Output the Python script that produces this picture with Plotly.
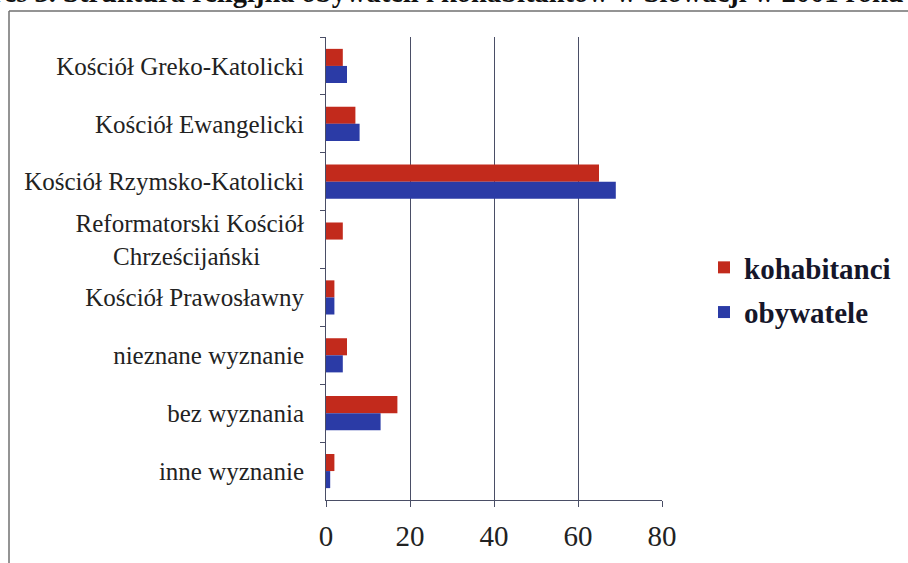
import plotly.graph_objects as go

categories = [
    "Kościół Greko-Katolicki",
    "Kościół Ewangelicki",
    "Kościół Rzymsko-Katolicki",
    "Reformatorski Kościół<br>Chrześcijański" + "\u00a0" * 7,
    "Kościół Prawosławny",
    "nieznane wyznanie",
    "bez wyznania",
    "inne wyznanie",
]
kohabitanci = [4, 7, 65, 4, 2, 5, 17, 2]
obywatele = [5, 8, 69, 0, 2, 4, 13, 1]
x_ticks = [0, 20, 40, 60, 80]
title_text = "Wykres 3. Struktura religijna obywateli i kohabitantów w Słowacji w 2001 roku"

W, H = 908, 563
L, R, T, B = 326, 662, 37, 500  # plot area in pixels


def px_x(p):
    return (p - L) / (R - L)


def px_y(p):
    return (B - p) / (B - T)


serif = "Liberation Serif, Times New Roman, serif"

fig = go.Figure()
fig.add_trace(go.Bar(y=categories, x=kohabitanci, orientation="h", name="kohabitanci",
                     marker=dict(color="#c22a1c", line=dict(width=0)), legendgroup="a"))
fig.add_trace(go.Bar(y=categories, x=obywatele, orientation="h", name="obywatele",
                     marker=dict(color="#2b3ba6", line=dict(width=0)), legendgroup="b"))

fig.update_layout(
    width=W, height=H,
    margin=dict(l=L, r=W - R, t=T, b=H - B),
    paper_bgcolor="white", plot_bgcolor="white",
    barmode="group", bargap=0.41, bargroupgap=0,
    font=dict(family=serif, color="#222222"),
    showlegend=True,
    legend=dict(x=px_x(704), y=px_y(242), xanchor="left", yanchor="top",
                font=dict(size=29, family=serif, color="#15162a", weight="bold"),
                traceorder="grouped", tracegroupgap=4, itemwidth=30,
                bgcolor="rgba(0,0,0,0)"),
)

fig.update_xaxes(range=[0, 80], tickvals=x_ticks, showgrid=True, gridcolor="#4a4e66", gridwidth=1,
                 zeroline=False, showline=True, linecolor="#4a4e66", linewidth=1,
                 ticks="outside", ticklen=6, tickcolor="#4a4e66", ticklabelstandoff=4,
                 tickfont=dict(size=29, family=serif, color="#222222"))
fig.update_yaxes(autorange="reversed", showgrid=False, showline=True, linecolor="#4a4e66", linewidth=1,
                 ticks="outside", ticklen=5, tickcolor="#4a4e66", tickson="boundaries",
                 ticklabelstandoff=16,
                 tickfont=dict(size=25, family=serif, color="#222222"))

# frame lines of the scanned figure
fig.add_shape(type="line", xref="paper", yref="paper", x0=px_x(9), x1=px_x(908), y0=px_y(11), y1=px_y(11),
              line=dict(color="#707070", width=1.5))
fig.add_shape(type="line", xref="paper", yref="paper", x0=px_x(9), x1=px_x(9), y0=px_y(11), y1=px_y(563),
              line=dict(color="#707070", width=1.5))

# cut-off title at the top
fig.add_annotation(text=title_text, xref="paper", yref="paper", x=px_x(906), y=px_y(10),
                   xanchor="right", yanchor="bottom", showarrow=False,
                   font=dict(size=28.5, family=serif, color="#111111", weight="bold"))

fig.write_html("out.html", config={"displayModeBar": False},
               post_script="document.body.style.margin='0';")
